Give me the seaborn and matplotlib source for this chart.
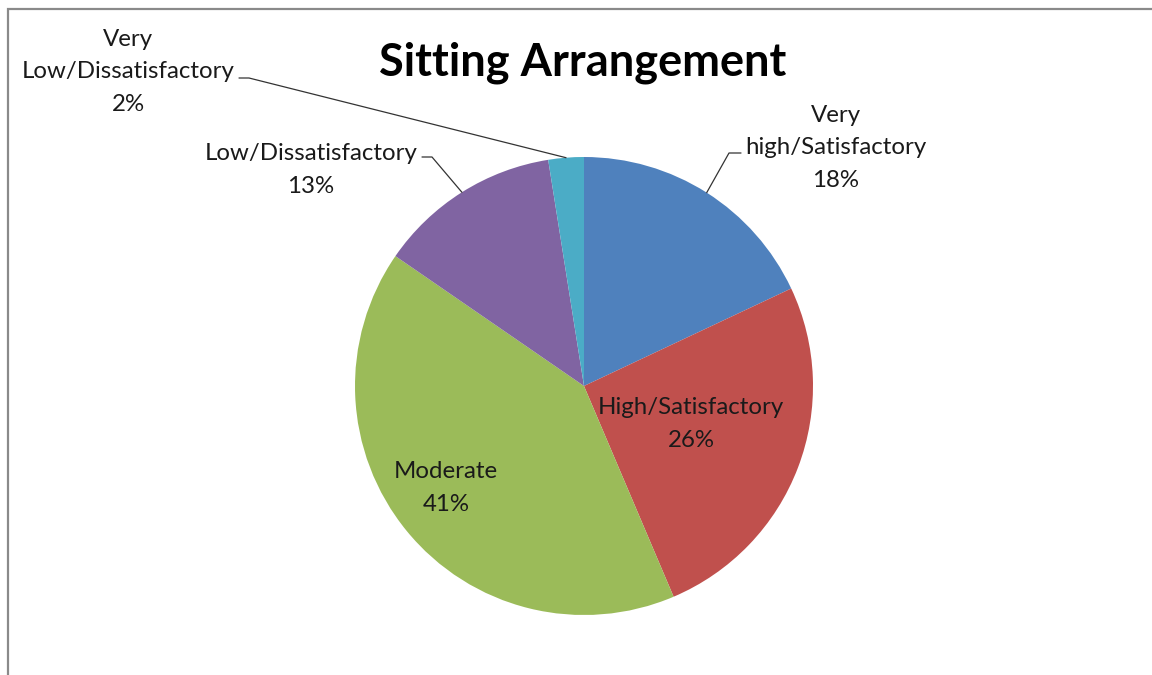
import matplotlib
matplotlib.use("Agg")
import matplotlib.pyplot as plt
import numpy as np
import seaborn as sns

# data
categories = ["Very high/Satisfactory", "High/Satisfactory", "Moderate",
              "Low/Dissatisfactory", "Very Low/Dissatisfactory"]
label_text = ["Very\nhigh/Satisfactory", "High/Satisfactory", "Moderate",
              "Low/Dissatisfactory", "Very\nLow/Dissatisfactory"]
# slice shares; labels show rounded values
shares = [18.0, 25.6, 41.0, 12.9, 2.5]
pct_labels = ["18%", "26%", "41%", "13%", "2%"]
colors = ["#4F81BD", "#C0504D", "#9BBB59", "#8064A2", "#4BACC6"]

W, H = 1152, 675
sns.set_theme(style="white")
plt.rcParams["font.family"] = ["Lato", "DejaVu Sans"]

fig = plt.figure(figsize=(W / 100, H / 100), dpi=100)
ax = fig.add_axes([0, 0, 1, 1])


def py(y):
    # image-style y (from top) to data y
    return H - y


cx, cy, r = 584, py(386), 229
wedges, _ = ax.pie(shares, colors=sns.color_palette(colors), startangle=90,
                   counterclock=False, center=(cx, cy), radius=r,
                   wedgeprops=dict(linewidth=0))
ax.set_xlim(0, W)
ax.set_ylim(0, H)
ax.set_aspect("equal")
ax.axis("off")

# label layout: (x, y) centre of text, elbow points for leader lines
inside = {1: (691, 424), 2: (446, 488)}
outside = {0: ((836, 148), [(741, 153), (729, 153)]),
           3: ((311, 170), [(422, 157), (432, 157)]),
           4: ((128, 72), [(239, 78), (249, 78)])}

fs = 17.3
ls = 1.66
for i, (lab, p) in enumerate(zip(label_text, pct_labels)):
    s = f"{lab}\n{p}"
    if i in inside:
        x, y = inside[i]
        ax.text(x, py(y), s, ha="center", va="center", fontsize=fs,
                linespacing=ls, multialignment="center", color="#1a1a1a")
    else:
        (x, y), elbow = outside[i]
        ax.text(x, py(y), s, ha="center", va="center", fontsize=fs,
                linespacing=ls, multialignment="center", color="#1a1a1a")
        w = wedges[i]
        mid = np.deg2rad((w.theta1 + w.theta2) / 2)
        ax_, ay_ = cx + r * np.cos(mid), cy + r * np.sin(mid)
        xs = [elbow[0][0], elbow[1][0], ax_]
        ys = [py(elbow[0][1]), py(elbow[1][1]), ay_]
        ax.plot(xs, ys, color="#333333", lw=0.9)

ax.text(583, py(63), "Sitting Arrangement", ha="center", va="center",
        fontsize=32.5, fontweight="bold", color="black")

# chart border (left and top)
ax.plot([8, 8, W + 5], [-5, py(9), py(9)], color="#8a8a8a", lw=1.6,
        clip_on=False, solid_joinstyle="miter")

fig.savefig("out.png", dpi=100, facecolor="white")
